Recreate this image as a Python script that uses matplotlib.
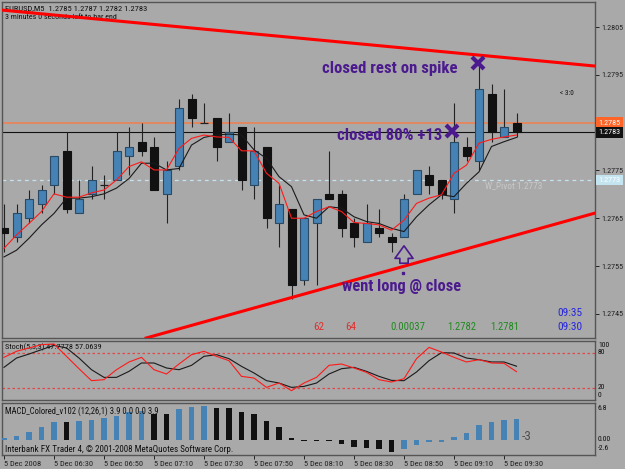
import matplotlib
matplotlib.use("Agg")
import matplotlib.pyplot as plt
from matplotlib import font_manager
from matplotlib.transforms import Affine2D, IdentityTransform, blended_transform_factory

# ---------------- data ----------------
header_line = "EURUSD,M5  1.2785 1.2787 1.2782 1.2783"
timer_line = "3 minutes 0 seconds left to bar end"

opens = [1.2763, 1.2761, 1.2765, 1.2768, 1.2772, 1.2779, 1.2766, 1.2770, 1.2772, 1.2773,
         1.2778, 1.2781, 1.2780, 1.2770, 1.2776, 1.2790, 1.2785, 1.2786, 1.2781, 1.2784,
         1.2772, 1.2780, 1.2764, 1.2767, 1.2752, 1.2764, 1.2770, 1.2770, 1.2764, 1.2760,
         1.2763, 1.2761, 1.2761, 1.2770, 1.2774, 1.2773, 1.2769, 1.2780, 1.2777, 1.2791,
         1.2782, 1.2785]
highs = [1.2768, 1.2768, 1.2771, 1.2772, 1.2778, 1.2783, 1.2773, 1.2776, 1.2774, 1.2783,
         1.2784, 1.2785, 1.2782, 1.2777, 1.2790, 1.2791, 1.2789, 1.2786, 1.2787, 1.2784,
         1.2784, 1.2780, 1.2772, 1.2767, 1.2765, 1.2769, 1.2779, 1.2771, 1.2765, 1.2768,
         1.2767, 1.2762, 1.2770, 1.2775, 1.2776, 1.2773, 1.2789, 1.2782, 1.2797, 1.2793,
         1.2792, 1.2787]
lows = [1.2758, 1.2760, 1.2764, 1.2766, 1.2770, 1.2766, 1.2766, 1.2769, 1.2769, 1.2773,
        1.2774, 1.2778, 1.2771, 1.2764, 1.2775, 1.2784, 1.2785, 1.2777, 1.2781, 1.2771,
        1.2769, 1.2763, 1.2759, 1.2748, 1.2751, 1.2751, 1.2769, 1.2761, 1.2759, 1.2760,
        1.2761, 1.2758, 1.2761, 1.2770, 1.2770, 1.2769, 1.2766, 1.2777, 1.2775, 1.2781,
        1.2782, 1.2782]
closes = [1.2762, 1.2766, 1.2769, 1.2771, 1.2778, 1.2767, 1.2769, 1.2773, 1.2772, 1.2779,
          1.2780, 1.2779, 1.2771, 1.2775, 1.2788, 1.2786, 1.2785, 1.2780, 1.2783, 1.2773,
          1.2779, 1.2765, 1.2768, 1.2751, 1.2765, 1.2769, 1.2769, 1.2763, 1.2761, 1.2764,
          1.2762, 1.2760, 1.2769, 1.2775, 1.2772, 1.2770, 1.2781, 1.2778, 1.2792, 1.2783,
          1.2784, 1.2783]

ma_fast = [1.27587, 1.27615, 1.27639, 1.27664, 1.27701, 1.27694, 1.27694, 1.27703, 1.27709, 1.27730,
           1.27758, 1.27768, 1.27751, 1.27751, 1.27796, 1.27817, 1.27824, 1.27820, 1.27819, 1.27791,
           1.27791, 1.27744, 1.27723, 1.27650, 1.27650, 1.27664, 1.27674, 1.27664, 1.27641, 1.27639,
           1.27636, 1.27625, 1.27646, 1.27681, 1.27692, 1.27699, 1.27744, 1.27761, 1.27807, 1.27815,
           1.27820, 1.27824]
ma_slow = [1.27569, 1.27583, 1.27608, 1.27636, 1.27660, 1.27692, 1.27692, 1.27695, 1.27701, 1.27713,
           1.27733, 1.27765, 1.27765, 1.27751, 1.27754, 1.27803, 1.27819, 1.27824, 1.27826, 1.27824,
           1.27793, 1.27775, 1.27737, 1.27716, 1.27657, 1.27650, 1.27674, 1.27671, 1.27653, 1.27643,
           1.27639, 1.27629, 1.27622, 1.27653, 1.27678, 1.27699, 1.27695, 1.27723, 1.27747, 1.27800,
           1.27810, 1.27819]

ask_price = 1.2785
bid_price = 1.2783
pivot_price = 1.2773
trend_upper = [(0, 1.28085), (47, 1.27969)]
trend_lower = [(23, 1.27484), (41, 1.27615)]
price_ticks = [1.2745, 1.2755, 1.2765, 1.2775, 1.2795, 1.2805]

stoch_main = [72.1, 82.3, 88.0, 93.6, 94.7, 73.8, 52.8, 32.5, 34.2, 51.1,
              64.2, 72.1, 51.1, 43.8, 60.8, 76.6, 82.3, 73.8, 66.4, 39.8,
              37.0, 21.1, 28.5, 15.5, 28.5, 38.1, 58.5, 60.8, 54.0, 46.6,
              34.2, 30.2, 35.8, 69.8, 89.0, 81.1, 72.1, 64.2, 68.1, 62.5,
              61.9, 47.7778]
stoch_signal = [55.1, 70.9, 77.7, 85.1, 92.4, 88.0, 70.9, 51.1, 38.1, 38.1,
                48.3, 62.5, 62.5, 54.0, 51.1, 58.5, 73.8, 76.6, 69.8, 56.8,
                45.5, 32.5, 28.5, 21.1, 22.8, 28.5, 43.8, 52.8, 55.1, 48.3,
                39.8, 33.0, 32.5, 47.2, 66.4, 80.0, 79.4, 70.9, 68.1, 64.2,
                64.2, 57.0639]
stoch_levels = [20, 80]

macd_hist = [0.36, 0.93, 1.79, 2.79, 3.94, 3.90, 4.08, 4.37, 4.65, 5.23,
             5.94, 6.23, 5.66, 5.60, 6.66, 7.09, 7.37, 6.95, 6.90, 5.94,
             5.51, 4.08, 2.79, 0.50, -0.15, -0.20, -0.30, -0.90, -1.40, -1.80,
             -1.90, -2.50, -1.90, -1.10, -0.50, -0.36, 0.70, 1.40, 3.20, 3.80,
             4.20, 4.50]
macd_rising = [1, 1, 1, 1, 1, 0, 1, 1, 1, 1, 1, 1, 0, 0, 1, 1, 1, 0, 0, 0, 0,
               0, 0, 0, 0, 0, 0, 0, 0, 0, 0, 0, 1, 1, 1, 1, 1, 1, 1, 1, 1, 1]

time_label_bars = [0, 4, 8, 12, 16, 20, 24, 28, 32, 36, 40]
time_labels = ["5 Dec 2008", "5 Dec 06:30", "5 Dec 06:50", "5 Dec 07:10", "5 Dec 07:30",
               "5 Dec 07:50", "5 Dec 08:10", "5 Dec 08:30", "5 Dec 08:50", "5 Dec 09:10",
               "5 Dec 09:30"]

# ---------------- fonts ----------------
_fonts = font_manager.fontManager.ttflist
_narrow = None
for pref in ["Liberation Sans Narrow", "Roboto Condensed", "Open Sans Condensed", "Noto Sans"]:
    for f in _fonts:
        if f.name == pref and (pref != "Noto Sans" or "ondensed" in f.fname):
            _narrow = (f.name, "condensed" if "ondensed" in f.fname else "normal")
            break
    if _narrow:
        break
if _narrow is None:
    for f in _fonts:
        if "DejaVuSansCondensed" in f.fname.replace("-", ""):
            _narrow = ("DejaVu Sans", f.stretch)
            break
if _narrow is None:
    _narrow = ("Liberation Sans", "normal")
FAM, STRETCH = _narrow

BG = "#a9a9a9"
FRAME = "#555555"
BLUE = "#4682b4"
BLUE_EDGE = "#2b4a66"
DARK = "#111111"
PURPLE = "#4b1a8e"

W, H = 625, 469
fig = plt.figure(figsize=(W / 100, H / 100), dpi=100, facecolor=BG)
PX = Affine2D().scale(1, -1).translate(0, H)  # pixel coords, y measured from the top
renderer = fig.canvas.get_renderer()


def px_axes(x0, y0, x1, y1):
    a = fig.add_axes([x0 / W, 1 - y1 / H, (x1 - x0) / W, (y1 - y0) / H])
    a.set_facecolor(BG)
    for s in a.spines.values():
        s.set_color(FRAME)
        s.set_linewidth(1.0)
    a.set_xlim(-0.16, 47.28)
    return a


def fit(t, width_px):
    """scale font so that the text is width_px pixels wide"""
    for _ in range(2):
        bb = t.get_window_extent(renderer)
        if bb.width > 0:
            t.set_fontsize(t.get_fontsize() * width_px / bb.width)
    return t


def ptext(x, y, s, ax=None, width=None, **kw):
    kw.setdefault("fontfamily", FAM)
    kw.setdefault("fontstretch", STRETCH)
    kw.setdefault("fontsize", 6.2)
    kw.setdefault("va", "center")
    kw.setdefault("color", "#101010")
    if ax is None:
        t = fig.text(x, y, s, transform=PX, **kw)
    else:
        t = ax.text(x, y, s, transform=PX, **kw)
    if width:
        fit(t, width)
    return t


def size_for(s, width_px, **kw):
    t = fig.text(0, 0, s, fontfamily=FAM, fontstretch=STRETCH, fontsize=10, **kw)
    fit(t, width_px)
    fs = t.get_fontsize()
    t.remove()
    return fs


# ---------------- main chart ----------------
ax = px_axes(2, 2, 595, 338)
ax.set_ylim(1.273994, 1.281023)
ax.set_xticks([])
ax.yaxis.tick_right()
ax.set_yticks(price_ticks)
price_fs = size_for("1.2805", 22)
ax.set_yticklabels([f"{p:.4f}" for p in price_ticks], fontfamily=FAM, fontstretch=STRETCH,
                   fontsize=price_fs)
ax.tick_params(axis="y", direction="out", length=3, width=0.7, pad=1.5, colors="#222222")

ax.axhline(ask_price, color="#e8845a", lw=1.3, zorder=1)
ax.axhline(bid_price, color="#111111", lw=0.8, zorder=1)
ax.axhline(pivot_price, color="#c6e2f0", lw=0.9, ls=(0, (3, 3)), zorder=1)

xs = list(range(len(opens)))
for i in xs:
    o, h, l, c = opens[i], highs[i], lows[i], closes[i]
    ax.vlines(i, l, h, color="#222222", lw=0.8, zorder=2)
    if abs(c - o) < 1e-9:
        ax.hlines(o, i - 0.32, i + 0.32, color="#222222", lw=0.9, zorder=3)
    else:
        up = c > o
        ax.bar(i, abs(c - o), bottom=min(o, c), width=0.64,
               color=BLUE if up else DARK, edgecolor=BLUE_EDGE if up else DARK,
               linewidth=0.8, zorder=3)

ax.plot(xs, ma_slow, color="#1a1a1a", lw=0.8, zorder=4)
ax.plot(xs, ma_fast, color="#ff1a1a", lw=0.8, zorder=4)

ax.axline(trend_upper[0], trend_upper[1], color="#ff0000", lw=2.2, zorder=5)
ax.axline(trend_lower[0], trend_lower[1], color="#ff0000", lw=2.2, zorder=5)

# trade marks
ax.plot([37.9], [1.27975], marker="x", ms=9, mew=3, color=PURPLE, zorder=6)
ax.plot([35.85], [1.27833], marker="x", ms=9, mew=3, color=PURPLE, zorder=6)
ax.annotate("", xy=(32, 1.27598), xytext=(32, 1.27550),
            arrowprops=dict(arrowstyle="simple,head_length=0.9,head_width=1.3,tail_width=0.6",
                            fc="none", ec=PURPLE, lw=1.2), zorder=6)
ax.plot([31.9], [1.27535], marker="s", ms=1.5, color=PURPLE, zorder=6)

ann_kw = dict(fontweight="bold", fontsize=12.5, color=PURPLE, ha="left", zorder=7)
ptext(322, 68, "closed rest on spike", ax=ax, width=135, **ann_kw)
ptext(337, 135, "closed 80% +13", ax=ax, width=106, **ann_kw)
ptext(342, 286, "went long @ close", ax=ax, width=119, **ann_kw)

ptext(5, 8, header_line, ax=ax, width=142, zorder=1)
ptext(5, 17, timer_line, ax=ax, width=112, zorder=1)
ptext(560, 93, "< 3:0", ax=ax, fontsize=5.2)
ptext(485, 186, "W_Pivot 1.2773", ax=ax, color="#c8c8c8", width=58)

ptext(313, 327, "62", ax=ax, color="#e03030", width=11)
ptext(345, 327, "64", ax=ax, color="#e03030", width=11)
ptext(390, 327, "0.00037", ax=ax, color="#1f8a1f", width=35)
ptext(447, 327, "1.2782", ax=ax, color="#1f8a1f", width=29)
ptext(490, 327, "1.2781", ax=ax, color="#1f8a1f", width=29)
ptext(557, 313, "09:35", ax=ax, color="#2424e0", width=25)
ptext(557, 327, "09:30", ax=ax, color="#2424e0", width=25)

# price boxes on the right scale
bt = blended_transform_factory(IdentityTransform(), ax.transData)
for price, fc, tc in [(ask_price, "#ff6428", "white"), (bid_price, "#111111", "white"),
                      (pivot_price, "#c4e4f0", "white")]:
    ax.text(598, price, f"{price:.4f}", transform=bt, fontfamily=FAM, fontstretch=STRETCH,
            fontsize=price_fs, color=tc, va="center", ha="left", clip_on=False, zorder=8,
            bbox=dict(fc=fc, ec="none", boxstyle="square,pad=0.3"))

# ---------------- stochastic ----------------
axs = px_axes(2, 341, 595, 400)
axs.set_ylim(-0.3, 99.8)
axs.set_xticks([])
axs.set_yticks([])
for lv in stoch_levels:
    axs.axhline(lv, color="#e04848", lw=0.9, ls=(0, (2, 2)), zorder=1)
axs.plot(xs, stoch_signal, color="#1a1a1a", lw=0.8, zorder=3)
axs.plot(xs, stoch_main, color="#ff1a1a", lw=0.8, zorder=3)
ptext(5, 347, f"Stoch(5,3,3) {stoch_main[-1]:.4f} {stoch_signal[-1]:.4f}", ax=axs, width=95, zorder=2)
for y, s in [(345, "100"), (352, "80"), (387, "20"), (395, "0")]:
    ptext(598, y, s, fontsize=price_fs * 0.95)

# ---------------- MACD ----------------
axm = px_axes(2, 403, 595, 455)
axm.set_ylim(-3.22, 7.94)
axm.set_yticks([])
axm.bar(xs, macd_hist, width=0.42,
        color=[BLUE if r else DARK for r in macd_rising], linewidth=0, zorder=3)
ptext(5, 411, "MACD_Colored_v102 (12,26,1) 3.9 0.0 0.0 3.9", ax=axm, width=154)
ptext(5, 449, "Interbank FX Trader 4, \u00a9 2001-2008 MetaQuotes Software Corp.", ax=axm, width=227)
ptext(522, 436, "-3", ax=axm, fontsize=9.5, color="#505050")
for y, s in [(408, "6.8"), (439, "0.00"), (448, "-2.6")]:
    ptext(598, y, s, fontsize=price_fs * 0.95)

time_fs = size_for("5 Dec 06:30", 39)
axm.set_xticks(time_label_bars)
axm.set_xticklabels(time_labels, fontfamily=FAM, fontstretch=STRETCH, fontsize=time_fs,
                    color="#111111")
for lab in axm.get_xticklabels():
    lab.set_horizontalalignment("left")
axm.tick_params(axis="x", direction="out", length=3, width=0.7, pad=1.5, colors="#222222")

fig.savefig("out.png", dpi=100, facecolor=BG)
